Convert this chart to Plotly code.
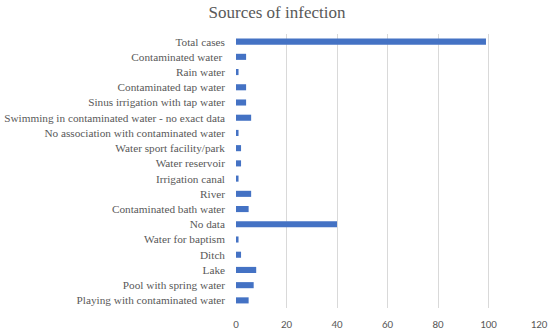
import plotly.graph_objects as go

categories = [
    "Total cases",
    "Contaminated water ",
    "Rain water",
    "Contaminated tap water",
    "Sinus irrigation with tap water",
    "Swimming in contaminated water - no exact data",
    "No association with contaminated water",
    "Water sport facility/park",
    "Water reservoir",
    "Irrigation canal",
    "River",
    "Contaminated bath water",
    "No data",
    "Water for baptism",
    "Ditch",
    "Lake",
    "Pool with spring water",
    "Playing with contaminated water",
]
values = [99, 4, 1, 4, 4, 6, 1, 2, 2, 1, 6, 5, 40, 1, 2, 8, 7, 5]
x_ticks = [0, 20, 40, 60, 80, 100, 120]

serif = "Palatino Linotype, Book Antiqua, Palatino, Liberation Serif, serif"

fig = go.Figure(
    go.Bar(
        x=values,
        y=categories,
        orientation="h",
        marker=dict(color="#4472C4", line=dict(width=0)),
    )
)

fig.update_layout(
    width=550,
    height=331,
    paper_bgcolor="white",
    plot_bgcolor="white",
    margin=dict(l=236, r=11, t=34, b=23, autoexpand=False),
    bargap=0.6,
    showlegend=False,
    title=dict(
        text="Sources of infection",
        x=277 / 550,
        xanchor="center",
        y=1 - 12 / 331,
        yanchor="middle",
        font=dict(family=serif, size=17, color="#595959"),
    ),
    xaxis=dict(
        range=[0, 120],
        tickvals=x_ticks,
        showgrid=True,
        gridcolor="#D9D9D9",
        gridwidth=1,
        zeroline=False,
        showline=False,
        ticks="",
        ticklabelstandoff=8,
        tickfont=dict(family="Carlito, Liberation Sans, sans-serif", size=11, color="#595959"),
        fixedrange=True,
    ),
    yaxis=dict(
        categoryorder="array",
        categoryarray=categories[::-1],
        autorange=False,
        range=[-0.5, len(categories) - 0.5],
        showgrid=False,
        zeroline=False,
        showline=False,
        ticks="",
        ticklabelstandoff=10,
        tickfont=dict(family=serif, size=11.25, color="#595959"),
        fixedrange=True,
    ),
)

fig.write_html(
    "out.html",
    config={"displayModeBar": False},
    post_script="document.body.style.margin='0px';",
)
